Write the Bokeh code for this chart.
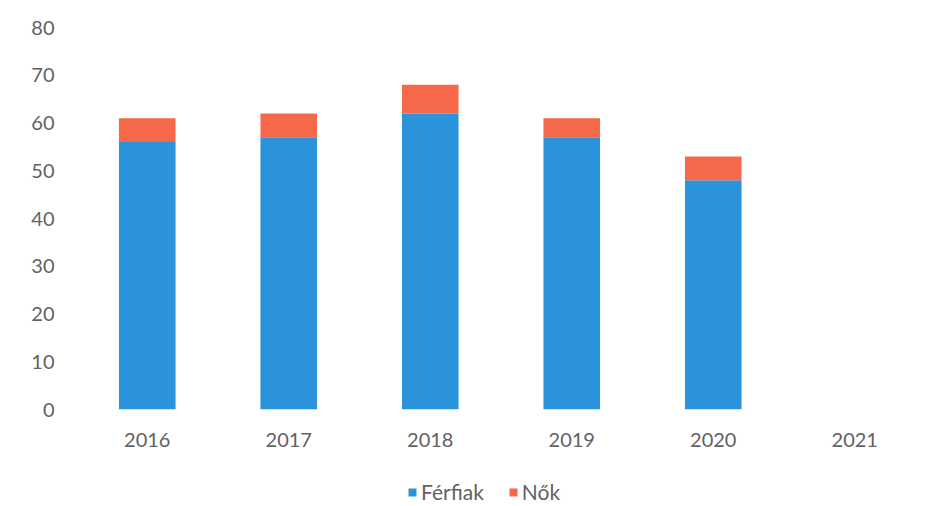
from bokeh.plotting import figure
from bokeh.layouts import column
from bokeh.models import FactorRange, Range1d, ColumnDataSource, Legend, LegendItem
from bokeh.embed import file_html
from bokeh.resources import INLINE

years = ["2016", "2017", "2018", "2019", "2020", "2021"]
ferfiak = [56, 57, 62, 57, 48, 0]
nok = [5, 5, 6, 4, 5, 0]
series = ["Férfiak", "Nők"]
y_ticks = [0, 10, 20, 30, 40, 50, 60, 70, 80]

BLUE = "#2A93D9"
ORANGE = "#F5694A"
GRAY = "#626262"
FONT = "Lato"

src = ColumnDataSource(dict(years=years, Férfiak=ferfiak, Nők=nok))

p = figure(x_range=FactorRange(*years), y_range=Range1d(0, 80),
           width=938, height=460, output_backend="svg", toolbar_location=None,
           min_border_left=76, min_border_right=13, min_border_top=27, min_border_bottom=51)

r = p.vbar_stack(series, x="years", width=0.40, color=[BLUE, ORANGE],
                 source=src, line_color=None)

p.outline_line_color = None
p.xgrid.grid_line_color = None
p.ygrid.grid_line_color = None
p.x_range.range_padding = 0
p.x_range.group_padding = 0

for ax in (p.xaxis[0], p.yaxis[0]):
    ax.axis_line_color = None
    ax.major_tick_line_color = None
    ax.minor_tick_line_color = None
    ax.major_label_text_font = FONT
    ax.major_label_text_font_size = "20px"
    ax.major_label_text_color = GRAY

p.yaxis[0].ticker = y_ticks
p.yaxis[0].major_label_standoff = 16
p.xaxis[0].major_label_standoff = 17

# legend strip below the chart (its renderers sit outside its visible range)
lg = figure(width=938, height=46, output_backend="svg", toolbar_location=None,
            x_range=FactorRange(*years), y_range=Range1d(1000, 1001),
            x_axis_location=None, y_axis_location=None,
            min_border_left=76, min_border_right=13, min_border_top=0, min_border_bottom=0)
lg.outline_line_color = None
lg.xgrid.grid_line_color = None
lg.ygrid.grid_line_color = None
lr = lg.vbar_stack(series, x="years", width=0.40, color=[BLUE, ORANGE],
                   source=src, line_color=None)

legend = Legend(items=[LegendItem(label=series[0], renderers=[lr[0]]),
                       LegendItem(label=series[1], renderers=[lr[1]])],
                orientation="horizontal", location=(331, 2),
                label_text_font=FONT, label_text_font_size="21px",
                label_text_color=GRAY, glyph_width=10, glyph_height=10,
                spacing=24, label_standoff=4, border_line_color=None,
                background_fill_alpha=0, padding=0, margin=0)
lg.add_layout(legend, "center")

layout = column(p, lg, spacing=0)
open("out.html", "w").write(file_html(layout, INLINE))
